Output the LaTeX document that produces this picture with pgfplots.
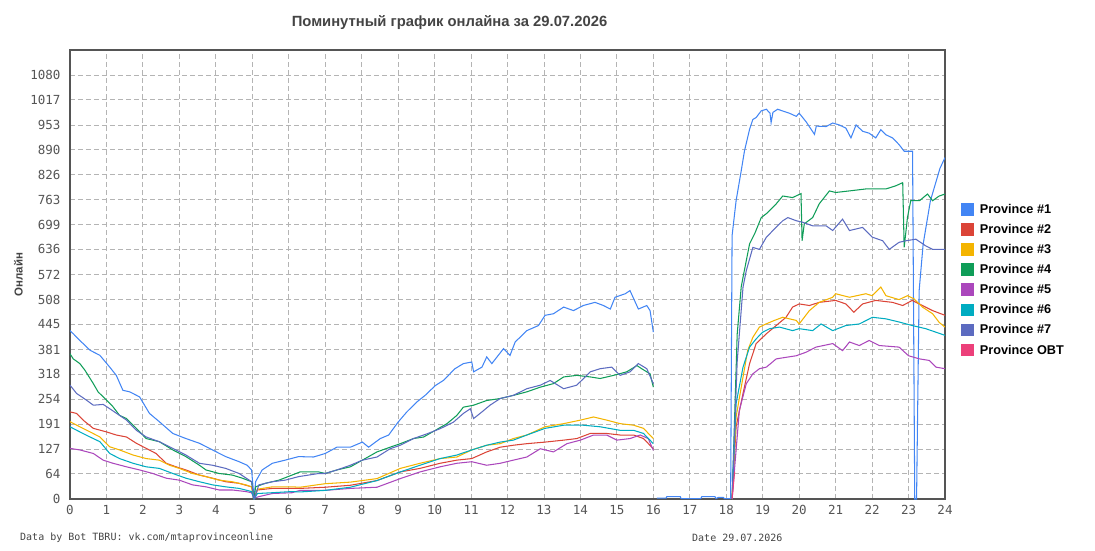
\documentclass[border=0pt]{standalone}
\usepackage{fontspec}
\setmainfont{Liberation Sans}
\newfontfamily\monof{DejaVu Sans Mono}
\usepackage{pgfplots}
\pgfplotsset{compat=1.18}
\definecolor{c1}{HTML}{4285F4}
\definecolor{c2}{HTML}{DB4437}
\definecolor{c3}{HTML}{F4B400}
\definecolor{c4}{HTML}{0F9D58}
\definecolor{c5}{HTML}{AB47BC}
\definecolor{c6}{HTML}{00ACC1}
\definecolor{c7}{HTML}{5C6BC0}
\definecolor{c8}{HTML}{EC407A}
\definecolor{axgray}{HTML}{555555}
\definecolor{txtgray}{HTML}{444444}
\definecolor{gridgray}{HTML}{B4B4B4}
\begin{document}
\begin{tikzpicture}
\path[use as bounding box] (0,0) rectangle (1095pt,550pt);
\begin{axis}[
  at={(70pt,51pt)}, anchor=south west,
  scale only axis, width=875pt, height=449pt,
  xmin=0, xmax=24, ymin=0, ymax=1144,
  xtick={0,1,...,24},
  ytick={0,64,127,191,254,318,381,445,508,572,636,699,763,826,890,953,1017,1080},
  yticklabels={0,64,127,191,254,318,381,445,508,572,636,699,763,826,890,953,1017,1080},
  /pgf/number format/assume math mode=true,
  ticklabel style={font=\monof\fontsize{12.5}{14}\selectfont, text=axgray},
  yticklabel style={xshift=-6pt},
  xticklabel style={yshift=-3pt},
  grid=major,
  grid style={gridgray, line width=0.9pt, dash pattern=on 5pt off 3pt},
  axis line style={axgray, line width=1.6pt},
  major tick length=0pt,
  unbounded coords=jump,
  ylabel={Онлайн},
  ylabel style={font=\bfseries\fontsize{11.5}{13}\selectfont, text=txtgray, at={(axis description cs:-0.059,0.5)}, anchor=center},
  legend style={at={(1.015,0.488)}, anchor=west, draw=none, fill=none,
    font=\bfseries\fontsize{12.7}{14}\selectfont, row sep=5.4pt, cells={anchor=west},
    /tikz/every odd column/.append style={column sep=4pt}},
  legend image code/.code={\fill[#1] (0pt,-5.5pt) rectangle (11.5pt,6pt);},
  every axis plot/.append style={line width=1.05pt, mark=none},
]
\addplot[c1] coordinates {(0,429)(0.09,421)(0.27,404)(0.55,379)(0.82,366)(1.09,336)(1.27,315)(1.45,277)(1.64,273)(1.91,260)(2.18,218)(2.45,197)(2.82,167)(3.18,154)(3.55,142)(3.91,125)(4.27,108)(4.64,95)(4.86,86)(4.98,74)(5.05,0)(5.09,44)(5.27,74)(5.55,91)(5.9,99)(6.27,108)(6.68,107)(7,116)(7.32,132)(7.69,132)(8.02,145)(8.19,132)(8.51,154)(8.74,163)(9.0,196)(9.24,222)(9.51,247)(9.74,264)(10.02,289)(10.24,302)(10.56,332)(10.79,345)(11.02,349)(11.07,324)(11.3,336)(11.43,362)(11.57,345)(11.89,383)(12.07,366)(12.21,400)(12.53,429)(12.85,442)(13.03,468)(13.26,472)(13.54,489)(13.81,480)(14.08,493)(14.4,501)(14.63,493)(14.82,484)(14.95,514)(15.23,523)(15.36,531)(15.59,484)(15.82,493)(15.91,480)(16.0,425)
(16.05,nan)
(16.1,2)(16.35,2)(16.37,6)(16.74,6)(16.76,1)(17.3,1)(17.33,6)(17.69,6)(17.72,1)(17.78,4)(17.92,4)(17.95,1)(18.12,1)(18.16,671)(18.27,760)(18.41,836)(18.5,887)(18.64,942)(18.73,967)(18.82,972)(18.96,989)(19.1,993)(19.2,983)(19.23,959)(19.28,985)(19.41,993)(19.73,983)(19.92,975)(20.0,983)(20.19,961)(20.42,929)(20.47,950)(20.74,949)(20.92,958)(21.1,953)(21.28,945)(21.42,920)(21.56,953)(21.74,937)(21.92,932)(22.1,920)(22.24,941)(22.38,928)(22.56,920)(22.74,903)(22.88,886)(23.11,886)(23.17,0)(23.22,0)(23.29,530)(23.4,649)(23.6,760)(23.86,842)(24,870)};
\addlegendentry{Province \#1}
\addplot[c2] coordinates {(0,222)(0.18,218)(0.36,201)(0.64,180)(1.0,171)(1.27,163)(1.55,158)(1.82,142)(2.09,129)(2.36,116)(2.64,91)(2.91,82)(3.18,74)(3.55,61)(3.91,53)(4.27,44)(4.64,40)(4.98,31)(5.05,0)(5.14,23)(5.55,27)(6.09,27)(6.31,27)(7,30)(7.69,35)(8.42,47)(9.06,69)(9.6,78)(10.15,91)(10.61,99)(11.02,103)(11.43,120)(11.8,132)(12.16,137)(12.53,141)(13.03,145)(13.54,150)(13.9,154)(14.27,167)(14.72,167)(15.09,163)(15.46,163)(15.73,154)(16,128)
(17,nan)
(18.16,0)(18.27,184)(18.46,269)(18.64,345)(18.82,396)(19.1,421)(19.37,442)(19.64,463)(19.82,489)(20,497)(20.28,493)(20.55,501)(21.0,506)(21.28,497)(21.5,476)(21.74,497)(22.1,506)(22.56,501)(22.84,493)(23.1,506)(23.38,493)(23.66,480)(24,468)};
\addlegendentry{Province \#2}
\addplot[c3] coordinates {(0,197)(0.27,184)(0.55,171)(0.82,158)(1.09,133)(1.36,125)(1.73,112)(2.09,103)(2.45,99)(2.73,86)(3.0,78)(3.36,65)(3.73,57)(4.09,48)(4.45,44)(4.82,36)(4.98,31)(5.05,0)(5.14,25)(5.55,31)(6.09,31)(6.31,30)(7,39)(7.69,43)(8.42,52)(9.06,78)(9.6,91)(10.15,103)(10.61,107)(11.02,125)(11.43,137)(11.8,141)(12.16,154)(12.53,163)(13.03,184)(13.54,192)(14,201)(14.36,209)(14.72,201)(15.09,192)(15.46,188)(15.73,180)(16,154)
(17,nan)
(18.16,0)(18.27,209)(18.46,311)(18.59,379)(18.73,412)(18.91,438)(19.09,446)(19.32,455)(19.55,463)(19.92,455)(20.0,446)(20.28,480)(20.55,501)(20.92,514)(21.0,523)(21.38,514)(21.83,523)(22.0,518)(22.24,540)(22.38,518)(22.74,508)(22.97,518)(23.15,510)(23.38,489)(23.66,472)(23.84,450)(24,438)};
\addlegendentry{Province \#3}
\addplot[c4] coordinates {(0,370)(0.09,357)(0.27,345)(0.41,328)(0.64,294)(0.77,273)(1.0,252)(1.18,235)(1.36,213)(1.55,205)(1.82,180)(2.09,154)(2.45,146)(2.82,125)(3.18,108)(3.55,86)(3.73,74)(4.09,65)(4.45,61)(4.73,53)(4.98,44)(5.05,0)(5.09,31)(5.36,40)(5.73,48)(6.09,61)(6.31,69)(6.82,69)(7.0,65)(7.32,74)(7.69,82)(8.02,99)(8.42,120)(8.78,132)(9.06,141)(9.42,154)(9.7,158)(10.02,175)(10.34,192)(10.61,213)(10.79,234)(11.07,239)(11.43,251)(11.8,256)(12.16,264)(12.53,273)(12.9,285)(13.26,294)(13.54,311)(13.9,315)(14.27,311)(14.54,307)(14.91,315)(15.27,324)(15.55,340)(15.68,332)(15.91,319)(16,285)
(17,nan)
(18.16,0)(18.3,420)(18.41,540)(18.46,565)(18.64,650)(18.78,676)(18.96,717)(19.1,727)(19.37,752)(19.55,772)(19.82,768)(20.05,778)(20.08,658)(20.14,701)(20.37,717)(20.55,752)(20.83,785)(21.0,781)(21.38,785)(21.83,790)(22.38,790)(22.65,798)(22.84,806)(22.88,641)(22.97,717)(23.06,760)(23.3,760)(23.52,777)(23.66,760)(23.84,772)(24,777)};
\addlegendentry{Province \#4}
\addplot[c5] coordinates {(0,129)(0.27,125)(0.64,116)(0.91,99)(1.18,91)(1.55,82)(1.91,74)(2.27,65)(2.64,53)(3.0,48)(3.36,36)(3.73,31)(4.09,23)(4.45,23)(4.82,19)(4.98,16)(5.05,2)(5.18,6)(5.55,14)(6.09,16)(6.31,22)(7,22)(7.69,27)(8.42,30)(9.06,52)(9.6,69)(10.15,82)(10.61,91)(11.02,95)(11.43,86)(11.8,91)(12.16,99)(12.53,107)(12.9,128)(13.26,120)(13.63,141)(14,150)(14.36,163)(14.72,163)(15.0,150)(15.36,154)(15.64,163)(15.86,154)(16,124)
(17,nan)
(18.16,0)(18.36,226)(18.55,294)(18.73,319)(18.91,332)(19.1,336)(19.37,357)(19.64,361)(19.92,365)(20.19,374)(20.46,387)(20.92,396)(21.19,378)(21.38,400)(21.65,391)(21.92,404)(22.2,391)(22.74,387)(23.0,365)(23.3,357)(23.57,353)(23.75,336)(24,332)};
\addlegendentry{Province \#5}
\addplot[c6] coordinates {(0,184)(0.27,171)(0.55,158)(0.82,146)(1.09,116)(1.36,103)(1.73,91)(2.09,82)(2.45,78)(2.82,65)(3.18,53)(3.55,44)(3.91,36)(4.27,31)(4.64,27)(4.98,19)(5.05,0)(5.14,14)(5.55,16)(6.09,19)(6.31,18)(7,22)(7.69,30)(8.42,47)(9.06,69)(9.6,86)(10.15,103)(10.61,112)(11.02,125)(11.43,137)(11.8,145)(12.16,150)(12.53,163)(13.03,180)(13.54,188)(14.08,188)(14.54,184)(15.09,175)(15.46,175)(15.73,167)(16,141)
(17,nan)
(18.16,0)(18.27,243)(18.46,336)(18.64,387)(18.82,408)(19.0,425)(19.19,434)(19.46,438)(19.82,429)(20,434)(20.37,429)(20.6,446)(20.92,429)(21.28,442)(21.65,446)(22.01,463)(22.38,459)(22.74,451)(23.1,442)(23.47,434)(24,417)};
\addlegendentry{Province \#6}
\addplot[c7] coordinates {(0,290)(0.18,269)(0.45,252)(0.64,239)(0.91,241)(1.09,230)(1.36,213)(1.55,201)(1.82,175)(2.09,158)(2.45,146)(2.82,129)(3.18,112)(3.55,91)(3.91,86)(4.27,78)(4.64,65)(4.98,44)(5.05,0)(5.18,36)(5.55,44)(5.9,48)(6.27,57)(6.82,65)(7,65)(7.32,74)(7.69,86)(8.02,99)(8.42,107)(8.78,128)(9.06,137)(9.42,154)(9.79,166)(10.15,179)(10.52,196)(10.79,218)(10.98,230)(11.07,205)(11.3,222)(11.52,239)(11.8,256)(12.16,264)(12.53,281)(12.9,290)(13.17,302)(13.54,281)(13.9,290)(14.27,324)(14.54,332)(14.86,336)(15.09,315)(15.36,324)(15.59,345)(15.82,332)(16,294)
(17,nan)
(18.16,0)(18.3,350)(18.46,540)(18.55,582)(18.73,641)(18.91,636)(19.1,667)(19.28,684)(19.55,709)(19.69,717)(19.92,709)(20.1,705)(20.37,696)(20.74,696)(20.92,684)(21.19,713)(21.38,684)(21.74,692)(22.01,667)(22.29,658)(22.47,636)(22.74,654)(22.93,658)(23.2,662)(23.47,645)(23.66,636)(24,636)};
\addlegendentry{Province \#7}
\addplot[c8] coordinates {(18.16,0)(18.2,40)(18.23,70)};
\addlegendentry{Province OBT}
\end{axis}
\node[font=\bfseries\fontsize{14.8}{17}\selectfont, text=txtgray] at (449.5pt,527pt) {Поминутный график онлайна за 29.07.2026};
\node[font=\monof\fontsize{10}{12}\selectfont, text=txtgray, anchor=west, inner sep=0pt] at (20pt,12pt) {Data by Bot TBRU: vk.com/mtaprovinceonline};
\node[font=\monof\fontsize{10}{12}\selectfont, text=txtgray, anchor=west, inner sep=0pt] at (692pt,12pt) {Date 29.07.2026};
\end{tikzpicture}
\end{document}
